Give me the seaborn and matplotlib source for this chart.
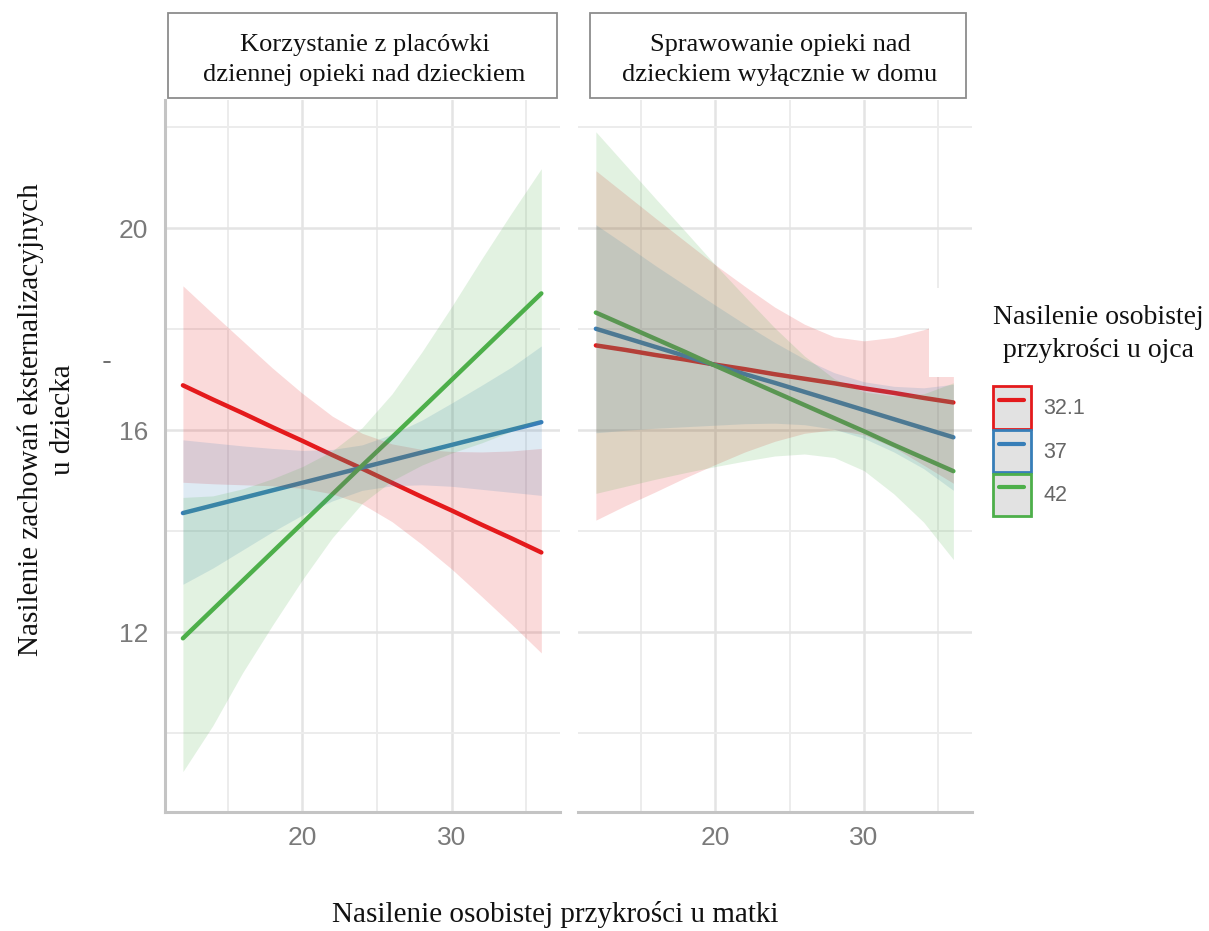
import numpy as np
import pandas as pd
import matplotlib
matplotlib.use("Agg")
import matplotlib.pyplot as plt
import seaborn as sns
from matplotlib.patches import Rectangle, Patch
from matplotlib.lines import Line2D
from matplotlib.legend_handler import HandlerTuple, HandlerLine2D

# ---------------- data ----------------
facets = ["Korzystanie z placówki\ndziennej opieki nad dzieckiem",
          "Sprawowanie opieki nad\ndzieckiem wyłącznie w domu"]
groups = ["32.1", "37", "42"]
legend_title = "Nasilenie osobistej\nprzykrości u ojca"
x_label = "Nasilenie osobistej przykrości u matki"
y_label = "Nasilenie zachowań eksternalizacyjnych\nu dziecka"
x_pts = [12, 14, 16, 18, 20, 22, 24, 26, 28, 30, 32, 34, 36]

# panel 1: day care
fit_red_1 = [16.89, 16.61, 16.34, 16.06, 15.79, 15.51, 15.24, 14.96, 14.68, 14.41, 14.13, 13.86, 13.58]
lo_red_1 = [14.97, 14.94, 14.92, 14.90, 14.85, 14.74, 14.54, 14.19, 13.74, 13.25, 12.71, 12.16, 11.59]
hi_red_1 = [18.86, 18.31, 17.77, 17.23, 16.73, 16.28, 15.94, 15.73, 15.62, 15.58, 15.57, 15.59, 15.64]
fit_blue_1 = [14.36, 14.51, 14.66, 14.81, 14.96, 15.11, 15.26, 15.41, 15.56, 15.71, 15.86, 16.01, 16.16]
lo_blue_1 = [12.95, 13.27, 13.63, 13.99, 14.32, 14.60, 14.81, 14.90, 14.92, 14.89, 14.83, 14.77, 14.71]
hi_blue_1 = [15.81, 15.75, 15.69, 15.64, 15.60, 15.62, 15.71, 15.92, 16.20, 16.54, 16.89, 17.25, 17.67]
fit_green_1 = [11.88, 12.45, 13.02, 13.59, 14.16, 14.73, 15.30, 15.86, 16.43, 17.00, 17.57, 18.14, 18.71]
lo_green_1 = [9.24, 10.15, 11.20, 12.14, 13.04, 13.87, 14.55, 15.00, 15.31, 15.55, 15.75, 15.98, 16.22]
hi_green_1 = [14.67, 14.70, 14.84, 15.04, 15.28, 15.59, 16.05, 16.72, 17.55, 18.45, 19.39, 20.30, 21.18]

# panel 2: home care only
fit_red_2 = [17.68, 17.59, 17.49, 17.40, 17.30, 17.21, 17.11, 17.02, 16.93, 16.83, 16.74, 16.64, 16.55]
lo_red_2 = [14.22, 14.51, 14.78, 15.06, 15.32, 15.57, 15.78, 15.94, 16.01, 15.91, 15.66, 15.31, 14.95]
hi_red_2 = [21.14, 20.67, 20.20, 19.74, 19.28, 18.85, 18.44, 18.10, 17.85, 17.77, 17.84, 17.99, 18.19]
fit_blue_2 = [18.01, 17.83, 17.65, 17.47, 17.29, 17.11, 16.94, 16.76, 16.58, 16.40, 16.22, 16.04, 15.86]
lo_blue_2 = [15.95, 16.00, 16.04, 16.07, 16.10, 16.13, 16.14, 16.11, 16.02, 15.84, 15.57, 15.24, 14.81]
hi_blue_2 = [20.07, 19.67, 19.26, 18.87, 18.48, 18.10, 17.74, 17.41, 17.14, 16.96, 16.87, 16.84, 16.91]
fit_green_2 = [18.33, 18.07, 17.81, 17.55, 17.28, 17.02, 16.76, 16.50, 16.24, 15.98, 15.71, 15.45, 15.19]
lo_green_2 = [14.75, 14.89, 15.03, 15.16, 15.28, 15.39, 15.49, 15.53, 15.46, 15.20, 14.74, 14.18, 13.44]
hi_green_2 = [21.91, 21.25, 20.59, 19.94, 19.28, 18.65, 18.03, 17.47, 17.02, 16.76, 16.68, 16.72, 16.94]

panel_data = {
    facets[0]: {"32.1": (fit_red_1, lo_red_1, hi_red_1),
                "37": (fit_blue_1, lo_blue_1, hi_blue_1),
                "42": (fit_green_1, lo_green_1, hi_green_1)},
    facets[1]: {"32.1": (fit_red_2, lo_red_2, hi_red_2),
                "37": (fit_blue_2, lo_blue_2, hi_blue_2),
                "42": (fit_green_2, lo_green_2, hi_green_2)},
}
rows = []
for f in facets:
    for g in groups:
        fit, lo, hi = panel_data[f][g]
        for xv, a, b, c in zip(x_pts, fit, lo, hi):
            rows.append({"facet": f, "group": g, "x": xv, "fit": a, "lo": b, "hi": c})
df = pd.DataFrame(rows)

palette = {"32.1": "#e41a1c", "37": "#377eb8", "42": "#4daf4a"}

# ---------------- style ----------------
sns.set_theme(style="white")
plt.rcParams["font.family"] = ["Liberation Sans", "DejaVu Sans"]
SERIF = ["Liberation Serif", "DejaVu Serif"]

W, H = 1209, 931
fig = plt.figure(figsize=(W / 100, H / 100), dpi=100)
fig.patch.set_facecolor("white")

axL = fig.add_axes([165 / W, 1 - 812 / H, 395 / W, 712 / H])
axR = fig.add_axes([578 / W, 1 - 812 / H, 394 / W, 712 / H])
axes = [axL, axR]

for i, (ax, f) in enumerate(zip(axes, facets)):
    sub = df[df["facet"] == f]
    ax.set_facecolor("white")
    ax.set_xlim(10.8, 37.25)
    ax.set_ylim(8.44, 22.54)
    ax.set_xticks([20, 30])
    ax.set_xticks([15, 25, 35], minor=True)
    ax.set_yticks([12, 16, 20])
    ax.set_yticks([10, 14, 18, 22], minor=True)
    ax.grid(which="major", color="#e4e4e4", lw=1.8, zorder=0)
    ax.grid(which="minor", color="#ececec", lw=1.4, zorder=0)
    ax.set_axisbelow(True)

    sns.lineplot(data=sub, x="x", y="fit", hue="group", hue_order=groups,
                 palette=palette, lw=3.2, ax=ax, legend=False, zorder=2)
    for g in groups:
        s = sub[sub["group"] == g]
        ax.fill_between(s["x"], s["lo"], s["hi"], color=palette[g],
                        alpha=0.16, lw=0, zorder=3)

    ax.set_xlabel("")
    ax.set_ylabel("")
    ax.tick_params(which="both", length=0, labelsize=19, labelcolor="#7a7a7a")
    ax.tick_params(axis="y", pad=12)
    ax.tick_params(axis="x", pad=10)
    for sp in ["top", "right"]:
        ax.spines[sp].set_visible(False)
    ax.spines["bottom"].set_color("#c4c4c4")
    ax.spines["bottom"].set_linewidth(2.2)
    if i == 0:
        ax.spines["left"].set_color("#c4c4c4")
        ax.spines["left"].set_linewidth(2.2)
    else:
        ax.spines["left"].set_visible(False)
        ax.tick_params(axis="y", labelleft=False)

# strip boxes
for (x0, x1), f in zip([(168, 557), (590, 966)], facets):
    fig.add_artist(Rectangle((x0 / W, 1 - 98 / H), (x1 - x0) / W, 85 / H,
                             transform=fig.transFigure, facecolor="white",
                             edgecolor="#8c8c8c", lw=1.3, zorder=5))
    fig.text((x0 + x1) / 2 / W + 2 / W, 1 - 60 / H, f, ha="center", va="center",
             fontsize=19, family=SERIF, color="#111111", linespacing=1.45,
             zorder=6)

# axis titles
fig.text(47 / W, 1 - 420 / H, y_label, rotation=90, ha="center", va="center",
         multialignment="center", fontsize=21, family=SERIF, color="#111111",
         linespacing=1.3)
fig.text(555 / W, 1 - 914 / H, x_label, ha="center", va="center",
         fontsize=21, family=SERIF, color="#111111")

# white patch overlapping panel corner (as in the reference)
fig.add_artist(Rectangle((929 / W, 1 - 377 / H), 50 / W, 89 / H,
                         transform=fig.transFigure, facecolor="white",
                         edgecolor="none", zorder=4))
# small stray mark left of the axis
fig.add_artist(Line2D([104 / W, 110 / W], [1 - 362 / H, 1 - 362 / H],
                      transform=fig.transFigure, color="#555555", lw=1.2))

# legend
handles = [(Patch(facecolor="#e2e2e2", edgecolor=palette[g], lw=2.0),
            Line2D([], [], color=palette[g], lw=3)) for g in groups]
leg = fig.legend(handles, groups,
                 handler_map={tuple: HandlerTuple(ndivide=1, pad=0),
                              Line2D: HandlerLine2D(numpoints=2, marker_pad=0.3)},
                 loc="upper left", bbox_to_anchor=(993 / W, 1 - 305 / H),
                 frameon=False, fontsize=15.5, labelcolor="#666666",
                 handlelength=1.75, handleheight=2.65, labelspacing=0.06,
                 handletextpad=0.6, borderpad=0, borderaxespad=0,
                 title=legend_title, alignment="left")
leg.get_title().set_fontfamily(SERIF)
leg.get_title().set_fontsize(20)
leg.get_title().set_color("#111111")
leg.get_title().set_multialignment("center")
leg.get_title().set_linespacing(1.4)
leg._legend_box.sep = 17

fig.savefig("out.png", dpi=100, facecolor="white")
